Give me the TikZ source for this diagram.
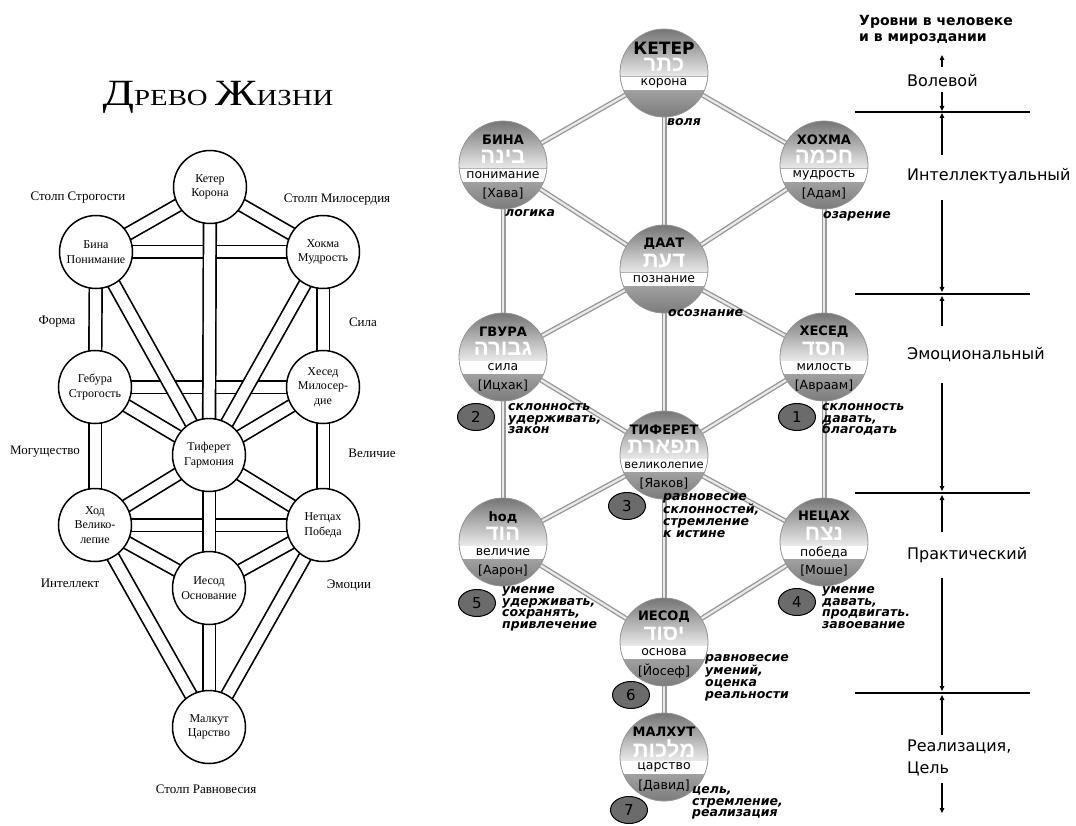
\documentclass[tikz,border=0pt]{standalone}
\usepackage{graphicx}
\usepackage{fontspec}
\setmainfont{Liberation Serif}
\newfontfamily\dv{DejaVu Sans}
\newfontfamily\hebfont[Script=Hebrew]{Liberation Sans}
\TeXXeTstate=1
\usetikzlibrary{shapes.geometric,arrows.meta}
\pgfdeclarelayer{back}
\pgfdeclarelayer{bg}
\pgfsetlayers{back,bg,main}
\newcommand{\myfs}[2]{\fontsize{#1}{#2}\selectfont}
\tikzset{
 lcirc/.style={circle, draw, line width=1.5pt, fill=white, minimum size=73pt, inner sep=0pt, align=center, font=\myfs{12}{14.5}},
 chanL/.style={draw=black, line width=1.7pt, double=white, double distance=11pt},
 chanR/.style={draw=black!40, line width=1.4pt, double=black!8, double distance=2.2pt},
 sph/.style={circle, minimum size=88pt, inner sep=0pt},
 heb/.style={text=white, font=\hebfont\bfseries\myfs{22}{22}, inner sep=0pt},
 sphtitle/.style={font=\dv\bfseries\myfs{13}{13}, inner sep=0pt},
 sphword/.style={font=\dv\myfs{12.5}{12.5}, inner sep=0pt},
 sphname/.style={font=\dv\myfs{12.5}{12.5}, inner sep=0pt},
 lbl/.style={font=\myfs{13}{15}, inner sep=0pt},
 note/.style={font=\dv\bfseries\itshape\myfs{12.5}{11.8}, align=left, anchor=north west, inner sep=0pt},
 badge/.style={ellipse, draw=black, line width=1pt, fill=black!58, minimum width=37pt, minimum height=27pt, inner sep=0pt, font=\dv\myfs{15}{15}},
 lvl/.style={font=\dv\myfs{16}{19}, inner sep=0pt, anchor=base west},
 levt/.style={font=\dv\bfseries\myfs{14}{14}, inner sep=0pt, anchor=base west},
 arr/.style={-{Triangle[length=5pt,width=4.5pt]}, line width=1.2pt},
 hline/.style={line width=1.2pt},
}
\newcommand{\sphere}[7]{%
 \node[sph] (#1) at (#2,#3) {};
 \begin{scope}[shift={(#2,#3)}]
  \begin{scope}
   \clip (0,0) circle (44pt);
   \shade[top color=black!55, bottom color=black!8] (-45,-45) rectangle (45,4);
   \shade[top color=black!30, bottom color=black!52] (-45,4) rectangle (45,45);
   \node[heb] (#1-h) at (0,-8) {\beginR #5\endR};
   \fill[white] (-45,4) rectangle (45,17);
  \end{scope}
  \draw[black!42, line width=0.8pt] (0,0) circle (44pt);
  \node[sphtitle] (#1-t) at (0,-25) {#4};
  \node[sphword] (#1-w) at (0,10.5) {#6};
  \node[sphname] (#1-n) at (0,29) {#7};
 \end{scope}}
\begin{document}
\begin{tikzpicture}[x=1pt,y=-1pt]
\begin{pgfonlayer}{back}
\fill[white] (0,0) rectangle (1076,826);
\end{pgfonlayer}
\useasboundingbox (0,0) rectangle (1076,826);

% ---------- Left: Древо Жизни ----------
\node[anchor=base, inner sep=0pt, font=\myfs{23}{23}] (ltitle) at (218,106)
  {\scalebox{1.25}[1]{{\myfs{37}{37}Д}РЕВО\hspace{6pt}{\myfs{37}{37}Ж}ИЗНИ}};

\node[lcirc] (lk) at (210,187) {Кетер\\Корона};
\node[lcirc] (lb) at (96,252) {Бина\\Понимание};
\node[lcirc] (lh) at (323,252) {Хокма\\Мудрость};
\node[lcirc] (lg) at (95,387) {Гебура\\Строгость};
\node[lcirc] (lc) at (323,387) {Хесед\\Милосер-\\дие};
\node[lcirc] (lt) at (209,455) {Тиферет\\Гармония};
\node[lcirc] (lhod) at (95,525) {Ход\\Велико-\\лепие};
\node[lcirc] (ln) at (323,525) {Нетцах\\Победа};
\node[lcirc] (ly) at (209,588) {Иесод\\Основание};
\node[lcirc] (lm) at (209,727) {Малкут\\Царство};

\begin{pgfonlayer}{bg}
\foreach \a/\b in {lb/lh, lg/lc, lhod/ln,
  lk/lb, lk/lh, lk/lt, lb/lg, lb/lt, lh/lc, lh/lt, lg/lt, lc/lt,
  lg/lhod, lc/ln, lt/lhod, lt/ln, lt/ly, lhod/ly, ln/ly, lhod/lm, ln/lm, ly/lm}
  {\draw[chanL] (\a.center) -- (\b.center);}
\end{pgfonlayer}

\node[lbl] (l1) at (78,198) {Столп Строгости};
\node[lbl] (l2) at (337,200) {Столп Милосердия};
\node[lbl] (l3) at (57,322) {Форма};
\node[lbl] (l4) at (363,322) {Сила};
\node[lbl] (l5) at (45,452) {Могущество};
\node[lbl] (l6) at (372,453) {Величие};
\node[lbl] (l7) at (70,583) {Интеллект};
\node[lbl] (l8) at (349,585) {Эмоции};
\node[lbl] (l9) at (206,789) {Столп Равновесия};

% ---------- Right: spheres ----------
\sphere{rk}{664}{73}{\myfs{17}{17}КЕТЕР}{כתר}{корона}{}
\sphere{rb}{503}{165}{БИНА}{בינה}{понимание}{[Хава]}
\sphere{rh}{824}{165}{ХОХМА}{חכמה}{мудрость}{[Адам]}
\sphere{rd}{664}{269}{ДААТ}{דעת}{познание}{}
\sphere{rg}{503}{357}{ГВУРА}{גבורה}{сила}{[Ицхак]}
\sphere{rc}{824}{357}{ХЕСЕД}{חסד}{милость}{[Авраам]}
\sphere{rt}{664}{455}{ТИФЕРЕТ}{תפארת}{\myfs{11.5}{11.5}великолепие}{[Яаков]}
\sphere{rho}{503}{542}{hод}{הוד}{величие}{[Аарон]}
\sphere{rn}{824}{542}{НЕЦАХ}{נצח}{победа}{[Моше]}
\sphere{ry}{664}{642}{ИЕСОД}{יסוד}{основа}{[Йосеф]}
\sphere{rm}{664}{757}{МАЛХУТ}{מלכות}{царство}{[Давид]}

\begin{pgfonlayer}{bg}
\foreach \a/\b in {rk/rb, rk/rh, rk/rd, rb/rd, rh/rd, rb/rg, rh/rc,
  rd/rg, rd/rc, rd/rt, rg/rt, rc/rt, rg/rho, rc/rn, rt/rho, rt/rn, rt/ry,
  rho/ry, rn/ry, ry/rm}
  {\draw[chanR] (\a.center) -- (\b.center);}
\end{pgfonlayer}

% notes
\node[note] (n1) at (667,116) {\vphantom{Б}воля};
\node[note] (n2) at (505,207) {\vphantom{Б}логика};
\node[note] (n3) at (823,209) {\vphantom{Б}озарение};
\node[note] (n4) at (668,307) {\vphantom{Б}осознание};
\node[note] (n5) at (822,401) {\vphantom{Б}склонность\\давать,\\благодать};
\node[note] (n6) at (508,401) {\vphantom{Б}склонность\\удерживать,\\закон};
\node[note] (n7) at (663,491) {\vphantom{Б}равновесие\\склонностей,\\стремление\\к истине};
\node[note] (n8) at (502,584) {\vphantom{Б}умение\\удерживать,\\сохранять,\\привлечение};
\node[note] (n9) at (822,584) {\vphantom{Б}умение\\давать,\\продвигать.\\завоевание};
\node[note] (n10) at (705,652) {\vphantom{Б}равновесие\\умений,\\оценка\\реальности};
\node[note] (n11) at (692,784) {\vphantom{Б}цель,\\стремление,\\реализация};

% badges
\node[badge] (b1) at (797,417) {1};
\node[badge] (b2) at (476,417) {2};
\node[badge] (b3) at (627,506) {3};
\node[badge] (b4) at (797,602) {4};
\node[badge] (b5) at (477,603) {5};
\node[badge] (b6) at (631,695) {6};
\node[badge] (b7) at (629,810) {7};

% ---------- Levels ----------
\node[levt] (t1) at (859,26) {Уровни в человеке};
\node[levt] (t2) at (859,42) {и в мироздании};
\node[lvl] (v1) at (907,87) {Волевой};
\node[lvl] (v2) at (907,181) {Интеллектуальный};
\node[lvl] (v3) at (907,359) {Эмоциональный};
\node[lvl] (v4) at (907,559) {Практический};
\node[lvl] (v5) at (907,751) {Реализация,};
\node[lvl] (v6) at (907,773) {Цель};

\foreach \i/\y in {1/112, 2/294, 3/493, 4/693}
 {\coordinate (ha\i) at (855,\y); \coordinate (hb\i) at (1030,\y);
  \draw[hline] (ha\i) -- (hb\i);}
\foreach \i/\ya/\yb in {0/67/55, 1/92/111, 2/155/113, 3/200/292, 4/326/296,
  5/383/491, 6/532/495, 7/578/691, 8/735/695, 9/783/813}
 {\coordinate (s\i) at (942,\ya); \coordinate (e\i) at (942,\yb);
  \draw[arr] (s\i) -- (e\i);}
\end{tikzpicture}
\end{document}
